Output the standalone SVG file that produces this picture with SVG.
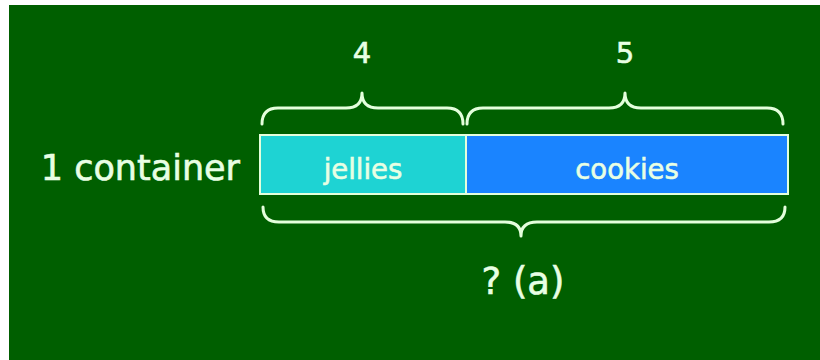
<svg xmlns="http://www.w3.org/2000/svg" width="820" height="360" viewBox="0 0 820 360">
<style>
.t{font-family:"DejaVu Sans",Verdana,sans-serif;fill:#e8ffe4;stroke:#e8ffe4;stroke-width:0.6}
.br{fill:none;stroke:#e4ffdc;stroke-width:3;stroke-linecap:round;stroke-linejoin:round}
.box{stroke:#e4ffdc;stroke-width:2}
</style>
<rect x="0" y="0" width="820" height="360" fill="#ffffff"/>
<rect x="9" y="5" width="811" height="355" fill="#005f00"/>
<g id="label-container"><text class="t" x="240" y="180" font-size="35" text-anchor="end">1 container</text></g>
<g id="jellies"><rect class="box" x="260" y="135" width="206" height="59" fill="#1ed3d3"/><text class="t" x="363" y="179" font-size="27.5" text-anchor="middle">jellies</text></g>
<g id="cookies"><rect class="box" x="466" y="135" width="322" height="59" fill="#1a84ff"/><text class="t" x="627" y="179" font-size="27.5" text-anchor="middle">cookies</text></g>
<g id="connectors">
<path class="br" d="M262,124 Q262,108 278,108 L346,108 Q362,108 362,93 Q362,108 378,108 L447,108 Q463,108 463,124"/>
<path class="br" d="M467,124 Q467,108 483,108 L609,108 Q625,108 625,93 Q625,108 641,108 L767,108 Q783,108 783,124"/>
<path class="br" d="M263,207 Q263,222 279,222 L505,222 Q521,222 521,236 Q521,222 537,222 L769,222 Q785,222 785,207"/>
</g>
<g id="label-4"><text class="t" x="362" y="63" font-size="29" text-anchor="middle">4</text></g>
<g id="label-5"><text class="t" x="625" y="63" font-size="29" text-anchor="middle">5</text></g>
<g id="label-a"><text class="t" x="523" y="294" font-size="37" text-anchor="middle">? (a)</text></g>
</svg>
